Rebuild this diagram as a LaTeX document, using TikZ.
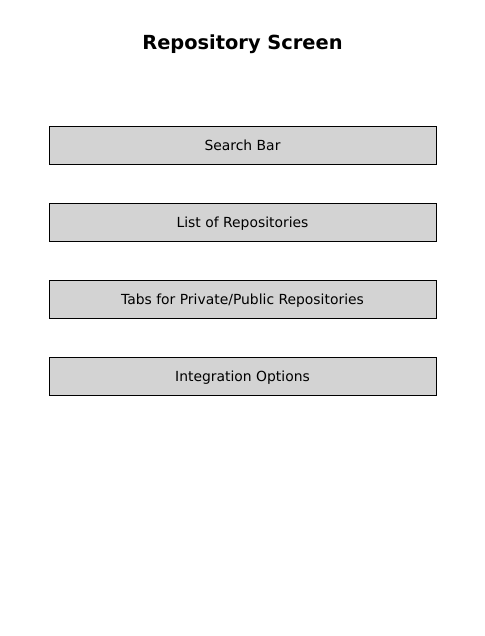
\documentclass[tikz,border=0pt]{standalone}
\usepackage{fontspec}
\setmainfont{DejaVu Sans}
\definecolor{boxgray}{RGB}{211,211,211}
\begin{document}
\begin{tikzpicture}[x=1pt,y=-1pt,
  panel/.style={draw=black, fill=boxgray, line width=0.8pt, minimum width=387pt, minimum height=38pt, inner sep=0pt, text height=12.5pt, text depth=2pt, font=\fontsize{13.9}{16}\selectfont},
  titletext/.style={font=\fontsize{19.4}{23}\selectfont\bfseries}]
\useasboundingbox (0,0) rectangle (484,636);
\node[titletext] (title) at (242.5,44) {Repository Screen};
\node[panel] (search) at (242.5,145) {Search Bar};
\node[panel] (list) at (242.5,222) {List of Repositories};
\node[panel] (tabs) at (242.5,299) {Tabs for Private/Public Repositories};
\node[panel] (integ) at (242.5,376) {Integration Options};
\end{tikzpicture}
\end{document}
